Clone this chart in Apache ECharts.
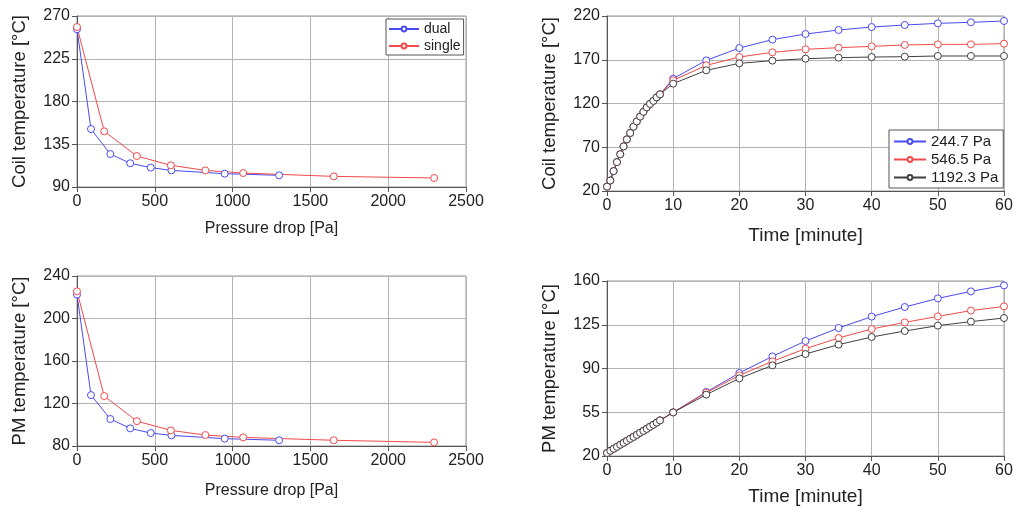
<!DOCTYPE html>
<html>
<head>
<meta charset="utf-8">
<script src="https://cdn.jsdelivr.net/npm/echarts@6/dist/echarts.min.js"></script>
<style>
html,body{margin:0;padding:0;background:#fff;}
#chart{width:1018px;height:514px;}
</style>
</head>
<body>
<div id="chart"></div>
<script>
// ---- Data ----
const pressureDual   = [0, 90, 214, 342, 474, 607, 949, 1299];
const coilDual       = [256, 151, 124.7, 115, 110.4, 107.5, 104, 102.3];
const pmDual         = [222.5, 127.9, 105.4, 96.6, 92.2, 90, 86.9, 85.4];
const pressureSingle = [0, 175, 385, 603, 825, 1068, 1650, 2295];
const coilSingle     = [258.4, 148.6, 122.6, 112.8, 107.5, 104.7, 101.2, 99.5];
const pmSingle       = [225.6, 127, 103.4, 94.7, 90.3, 88.1, 85.4, 83.4];

const timeMinutes = [0,0.5,1,1.5,2,2.5,3,3.5,4,4.5,5,5.5,6,6.5,7,7.5,8,10,15,20,25,30,35,40,45,50,55,60];
const coilEarly = [25, 32, 42.7, 53, 62, 71, 79, 86.3, 93.5, 99.5, 105, 110.5, 115.5, 119.5, 123, 127, 130.5];
const coil2447  = [148.4, 169.3, 183.4, 193, 199.4, 204, 207.4, 209.7, 211.6, 212.8, 214.3];
const coil5465  = [146.5, 163.6, 173.1, 178.5, 181.9, 183.8, 185.3, 186.9, 187.6, 187.6, 188.4];
const coil11923 = [142.7, 157.9, 165.9, 169, 171.2, 172.4, 173.1, 173.5, 174.3, 174.3, 174.3];
const pmEarly   = [22.4, 24.2, 25.8, 27.3, 29.0, 30.5, 32.1, 33.8, 35.3, 36.9, 38.6, 40.1, 41.7, 43.4, 45.0, 46.7, 48.5];
const pm2447    = [54.9, 71.2, 86.4, 99.7, 112, 122.4, 131.5, 139.2, 146.1, 151.7, 156.5];
const pm5465    = [54.9, 70.7, 84.5, 95.7, 105.9, 114.4, 121.6, 126.9, 131.7, 136.3, 139.7];
const pm11923   = [54.9, 69.1, 82.1, 92.5, 101.6, 109.1, 115.2, 120, 124.3, 127.5, 130.4];

const pressureNames = ['dual', 'single'];
const timeNames = ['244.7 Pa', '546.5 Pa', '1192.3 Pa'];

// ---- Styling ----
const FONT = "'Liberation Sans', Arial, sans-serif";
const BLUE = '#4a4af2', RED = '#f24a4a', DARK = '#404040';

function pairs(xs, ys) { return xs.map((x, i) => [x, ys[i]]); }
const plain = v => String(v);

function xAxis(gridIndex, min, max, interval, name, gap) {
  return {
    gridIndex, type: 'value', min, max, interval,
    name, nameLocation: 'middle', nameGap: gap,
    nameTextStyle: { fontFamily: FONT, fontSize: gridIndex < 2 ? 16 : 19, color: '#222' },
    axisLine: { show: true, onZero: false, lineStyle: { color: '#555', width: 1 } },
    axisTick: { show: true, length: 5, lineStyle: { color: '#555' } },
    axisLabel: { fontFamily: FONT, fontSize: 16, color: '#222', margin: 7, formatter: plain },
    splitLine: { show: true, lineStyle: { color: '#b4b4b4', width: 1 } }
  };
}
function yAxis(gridIndex, min, max, interval, name) {
  return {
    gridIndex, type: 'value', min, max, interval,
    name, nameLocation: 'middle', nameGap: 48,
    nameTextStyle: { fontFamily: FONT, fontSize: 18.5, color: '#222' },
    axisLine: { show: true, onZero: false, lineStyle: { color: '#555', width: 1 } },
    axisTick: { show: true, length: 5, lineStyle: { color: '#555' } },
    axisLabel: { fontFamily: FONT, fontSize: 16, color: '#222', margin: 7, formatter: plain },
    splitLine: { show: true, lineStyle: { color: '#b4b4b4', width: 1 } }
  };
}
function line(name, color, xi, data, z) {
  return {
    name, type: 'line', xAxisIndex: xi, yAxisIndex: xi, data,
    symbol: 'circle', symbolSize: 7, showSymbol: true,
    itemStyle: { color: '#fff', borderColor: color, borderWidth: 1 },
    lineStyle: { color, width: 1 },
    color, z: z || 2, animation: false
  };
}
function legend(names, left, top, fontSize, itemWidth, padding) {
  return {
    data: names, left, top,
    orient: 'vertical', backgroundColor: '#fff', borderColor: '#555', borderWidth: 1,
    itemWidth, itemHeight: 6, itemGap: 3, padding,
    textStyle: { fontFamily: FONT, fontSize, color: '#222' },
    selectedMode: false
  };
}

const chart = echarts.init(document.getElementById('chart'), null, { renderer: 'canvas' });

chart.setOption({
  backgroundColor: '#fff',
  animation: false,
  grid: [
    { left: 77, top: 16, width: 389, height: 171, show: true, borderColor: '#999', borderWidth: 1 },
    { left: 77, top: 276, width: 389, height: 170, show: true, borderColor: '#999', borderWidth: 1 },
    { left: 607, top: 16, width: 397, height: 175, show: true, borderColor: '#999', borderWidth: 1 },
    { left: 607, top: 281, width: 397, height: 175, show: true, borderColor: '#999', borderWidth: 1 }
  ],
  xAxis: [
    xAxis(0, 0, 2500, 500, 'Pressure drop [Pa]', 34),
    xAxis(1, 0, 2500, 500, 'Pressure drop [Pa]', 37),
    xAxis(2, 0, 60, 10, 'Time [minute]', 35),
    xAxis(3, 0, 60, 10, 'Time [minute]', 31)
  ],
  yAxis: [
    yAxis(0, 90, 270, 45, 'Coil temperature [°C]'),
    yAxis(1, 80, 240, 40, 'PM temperature [°C]'),
    yAxis(2, 20, 220, 50, 'Coil temperature [°C]'),
    yAxis(3, 20, 160, 35, 'PM temperature [°C]')
  ],
  legend: [
    legend(pressureNames, 386, 19, 14, 30, [3, 3, 2, 2]),
    legend(timeNames, 889, 130, 15, 32, [4, 5, 3, 4])
  ],
  series: [
    line(pressureNames[0], BLUE, 0, pairs(pressureDual, coilDual)),
    line(pressureNames[1], RED, 0, pairs(pressureSingle, coilSingle)),
    line(pressureNames[0], BLUE, 1, pairs(pressureDual, pmDual)),
    line(pressureNames[1], RED, 1, pairs(pressureSingle, pmSingle)),
    line(timeNames[0], BLUE, 2, pairs(timeMinutes, coilEarly.concat(coil2447)), 2),
    line(timeNames[1], RED, 2, pairs(timeMinutes, coilEarly.concat(coil5465)), 3),
    line(timeNames[2], DARK, 2, pairs(timeMinutes, coilEarly.concat(coil11923)), 4),
    line(timeNames[0], BLUE, 3, pairs(timeMinutes, pmEarly.concat(pm2447)), 2),
    line(timeNames[1], RED, 3, pairs(timeMinutes, pmEarly.concat(pm5465)), 3),
    line(timeNames[2], DARK, 3, pairs(timeMinutes, pmEarly.concat(pm11923)), 4)
  ]
});
</script>
</body>
</html>
